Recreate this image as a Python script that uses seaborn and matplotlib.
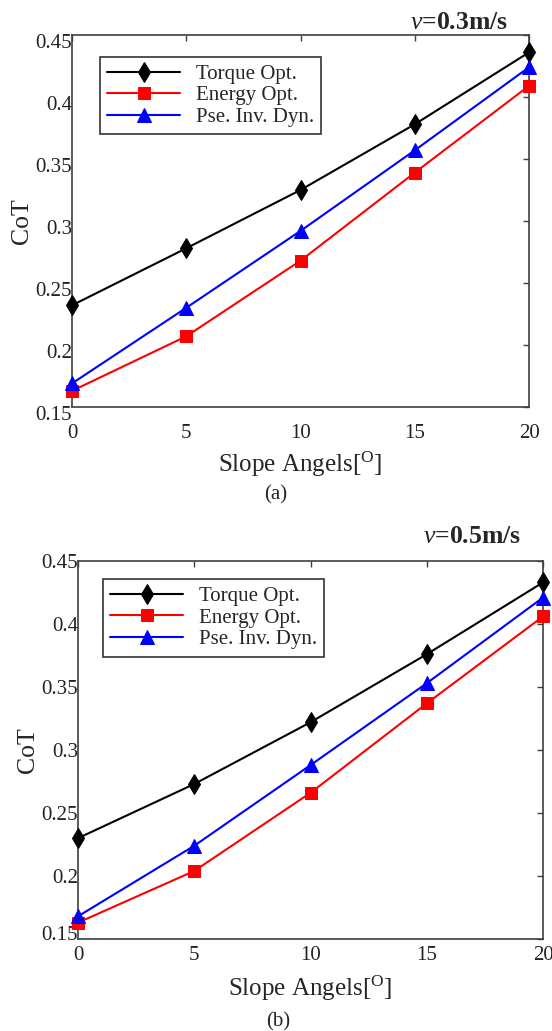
import numpy as np
import pandas as pd
import seaborn as sns
import matplotlib
matplotlib.use("Agg")
import matplotlib.pyplot as plt
from matplotlib.transforms import ScaledTranslation

# ---------------- data ----------------
slope_angles = [0, 5, 10, 15, 20]
series_names = ["Torque Opt.", "Energy Opt.", "Pse. Inv. Dyn."]

torque_a = [0.232, 0.278, 0.325, 0.378, 0.436]
energy_a = [0.163, 0.207, 0.268, 0.339, 0.409]
pse_a = [0.169, 0.230, 0.292, 0.357, 0.424]

torque_b = [0.230, 0.273, 0.322, 0.376, 0.433]
energy_b = [0.163, 0.204, 0.266, 0.337, 0.406]
pse_b = [0.168, 0.224, 0.288, 0.353, 0.421]

y_ticks = [0.15, 0.2, 0.25, 0.3, 0.35, 0.4, 0.45]
y_tick_labels = ["0.15", "0.2", "0.25", "0.3", "0.35", "0.4", "0.45"]
x_ticks = [0, 5, 10, 15, 20]
titles = [r"$\mathit{v}$=0.3m/s", r"$\mathit{v}$=0.5m/s"]
captions = ["(a)", "(b)"]

# ---------------- style ----------------
sns.set_theme(style="white")
plt.rcParams["font.family"] = ["Liberation Serif", "DejaVu Serif"]
plt.rcParams["mathtext.fontset"] = "custom"
plt.rcParams["mathtext.rm"] = "Liberation Serif"
plt.rcParams["mathtext.it"] = "Liberation Serif:italic"
plt.rcParams["mathtext.bf"] = "Liberation Serif:bold"

colors = ["black", "#ff0000", "#0000ff"]
markers = ["d", "s", "^"]
msizes = [10.5, 8.6, 9.5]

fig = plt.figure(figsize=(5.52, 10.31), dpi=100)
W, H = 552, 1031
axes_px = [(72, 35, 529, 407), (78, 561, 543, 939)]
title_pos = [(0.954, 0.016), (0.953, 0.048)]
legend_anchor = [(0.061, 0.941), (0.054, 0.952)]
caption_pos = [(276 / W, 1 - 495 / H), (278 / W, 1 - 1022 / H)]
xtick_pad = [12.4, 5.0]
xlabel_pad = [5, 6]

data_sets = [
    [torque_a, energy_a, pse_a],
    [torque_b, energy_b, pse_b],
]

for k in range(2):
    l, t, r, b = axes_px[k]
    ax = fig.add_axes([l / W, 1 - b / H, (r - l) / W, (b - t) / H])
    rows = []
    for name, vals in zip(series_names, data_sets[k]):
        for x, y in zip(slope_angles, vals):
            rows.append({"angle": x, "CoT": y, "method": name})
    df = pd.DataFrame(rows)
    for i, name in enumerate(series_names):
        sub = df[df["method"] == name]
        sns.lineplot(data=sub, x="angle", y="CoT", ax=ax, color=colors[i],
                     marker=markers[i], markersize=msizes[i],
                     markeredgecolor=colors[i], linewidth=1.5,
                     label=name, clip_on=False, zorder=3)
    ax.set_xlim(0, 20)
    ax.set_ylim(0.15, 0.45)
    ax.set_xticks(x_ticks)
    ax.set_xticklabels([str(v) for v in x_ticks])
    ax.set_yticks(y_ticks)
    ax.set_yticklabels(y_tick_labels)
    ax.tick_params(direction="in", length=4, width=1, top=True, right=True,
                   labelsize=15, colors="#404040", labelcolor="#222222")
    ax.tick_params(axis="y", pad=0)
    ax.tick_params(axis="x", pad=xtick_pad[k])
    ylabs = ax.get_yticklabels()
    for j, lab in enumerate(ylabs):
        if k == 0:
            dy = -4
        else:
            dy = 4 if j == 0 else 0
        if dy:
            off = ScaledTranslation(0, dy / 72.0, fig.dpi_scale_trans)
            lab.set_transform(lab.get_transform() + off)
    for s in ax.spines.values():
        s.set_color("#404040")
        s.set_linewidth(1.2)
        s.set_visible(True)
    ax.set_xlabel(r"Slope Angels[$^{\rm O}$]", fontsize=18, labelpad=xlabel_pad[k])
    ax.set_ylabel("CoT", fontsize=18.5, labelpad=2)
    ax.grid(False)
    leg = ax.legend(loc="upper left", bbox_to_anchor=legend_anchor[k],
                    fontsize=15, frameon=True, fancybox=False, handlelength=3.5,
                    handletextpad=0.75, borderpad=0.35, labelspacing=0.1,
                    borderaxespad=0)
    leg.get_frame().set_edgecolor("black")
    leg.get_frame().set_linewidth(1.2)
    ax.text(title_pos[k][0], 1 + title_pos[k][1], titles[k], transform=ax.transAxes,
            ha="right", va="baseline", fontsize=18.5, fontweight="bold")
    fig.text(caption_pos[k][0], caption_pos[k][1], captions[k], ha="center",
             va="center", fontsize=15)

fig.savefig("out.png", dpi=100)
